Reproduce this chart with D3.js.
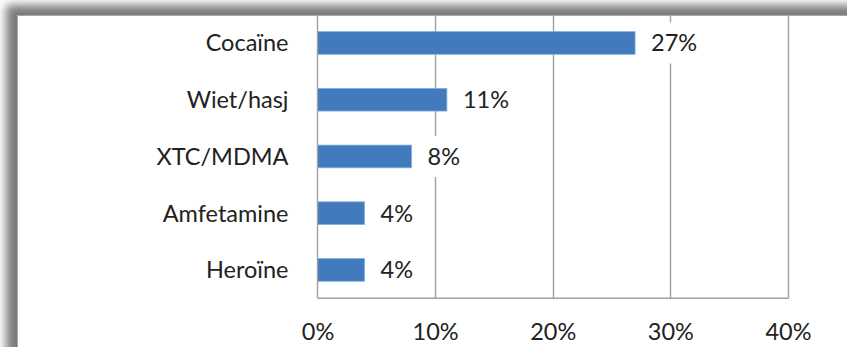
<!DOCTYPE html>
<html>
<head>
<meta charset="utf-8">
<script src="https://cdn.jsdelivr.net/npm/d3@7"></script>
<style>
  html, body { margin: 0; padding: 0; background: #fff; }
  svg { display: block; }
  text { font-family: Lato, "Open Sans", sans-serif; fill: #222; }
</style>
</head>
<body>
<svg id="chart" width="847" height="347"></svg>
<script>
// Drug types and their share (fraction)
const categories = ["Cocaïne", "Wiet/hasj", "XTC/MDMA", "Amfetamine", "Heroïne"];
const values = [0.27, 0.11, 0.08, 0.04, 0.04];
const tickValues = [0, 0.1, 0.2, 0.3, 0.4];

const W = 847, H = 347;
const plot = { left: 317.5, right: 788, top: 14.6, bottom: 298.3 };
const fontSize = 23.5;

const svg = d3.select("#chart");

const x = d3.scaleLinear().domain([0, 0.4]).range([plot.left, plot.right]);
const y = d3.scaleBand().domain(categories)
  .range([plot.top, plot.bottom])
  .paddingInner(0.6).paddingOuter(0.3);

// soft frame shadow around the chart area
const defs = svg.append("defs");
defs.append("filter").attr("id", "shadow")
  .attr("x", "-20%").attr("y", "-20%").attr("width", "140%").attr("height", "140%")
  .append("feGaussianBlur").attr("stdDeviation", 5);

svg.append("rect").attr("width", W).attr("height", H).attr("fill", "#fff");
svg.append("rect")
  .attr("x", 6).attr("y", 5).attr("width", W + 60).attr("height", H + 60)
  .attr("fill", "#7a7a7a").attr("filter", "url(#shadow)");
svg.append("rect")
  .attr("x", 17).attr("y", 15).attr("width", W).attr("height", H)
  .attr("fill", "#fff");
svg.append("path")
  .attr("d", `M17.5,${H} V15.5 H${W}`)
  .attr("fill", "none").attr("stroke", "#a6a6a6").attr("stroke-width", 1);

// vertical gridlines
svg.append("g").selectAll("line")
  .data(tickValues.slice(1))
  .join("line")
  .attr("x1", d => Math.round(x(d)) + 0.5).attr("x2", d => Math.round(x(d)) + 0.5)
  .attr("y1", 16).attr("y2", plot.bottom)
  .attr("stroke", "#a0a0a6").attr("stroke-width", 1.4);

// bars
svg.append("g").selectAll("rect")
  .data(categories.map((c, i) => ({ c, v: values[i] })))
  .join("rect")
  .attr("x", x(0)).attr("y", d => y(d.c))
  .attr("width", d => x(d.v) - x(0)).attr("height", y.bandwidth())
  .attr("fill", "#427bbd").attr("stroke", "#86aee0").attr("stroke-width", 0.8);

// value labels with white boxes
const fmt = d3.format(".0%");
const lab = svg.append("g").selectAll("g")
  .data(categories.map((c, i) => ({ c, v: values[i] })))
  .join("g")
  .attr("transform", d => `translate(${x(d.v) + 16},${y(d.c) + y.bandwidth() / 2})`);
lab.append("rect").attr("class", "bg");
lab.append("text")
  .attr("font-size", fontSize)
  .attr("dy", "0.36em")
  .text(d => fmt(d.v));
lab.each(function() {
  const t = d3.select(this).select("text").node();
  const w = t.getComputedTextLength();
  d3.select(this).select("rect")
    .attr("x", -8).attr("y", -20.5).attr("width", w + 16).attr("height", 41)
    .attr("fill", "#fff");
});

// axis lines
svg.append("line")
  .attr("x1", x(0)).attr("x2", x(0)).attr("y1", 16).attr("y2", plot.bottom)
  .attr("stroke", "#a0a0a6").attr("stroke-width", 1.4);
svg.append("line")
  .attr("x1", x(0)).attr("x2", x(0.4) + 0.7).attr("y1", plot.bottom).attr("y2", plot.bottom)
  .attr("stroke", "#a0a0a6").attr("stroke-width", 1.4);

// category axis
const yAxis = svg.append("g")
  .attr("transform", `translate(${x(0)},0)`)
  .call(d3.axisLeft(y).tickSize(0).tickPadding(29));
yAxis.select(".domain").remove();
yAxis.selectAll("text")
  .attr("font-size", fontSize).attr("font-family", null).attr("fill", "#222")
  .attr("dy", "0.36em");

// value axis
const xAxis = svg.append("g")
  .attr("transform", `translate(0,${plot.bottom})`)
  .call(d3.axisBottom(x).tickValues(tickValues).tickFormat(fmt).tickSize(0));
xAxis.select(".domain").remove();
xAxis.selectAll("text")
  .attr("font-size", fontSize).attr("font-family", null).attr("fill", "#222")
  .attr("y", 42).attr("dy", null);
</script>
</body>
</html>
